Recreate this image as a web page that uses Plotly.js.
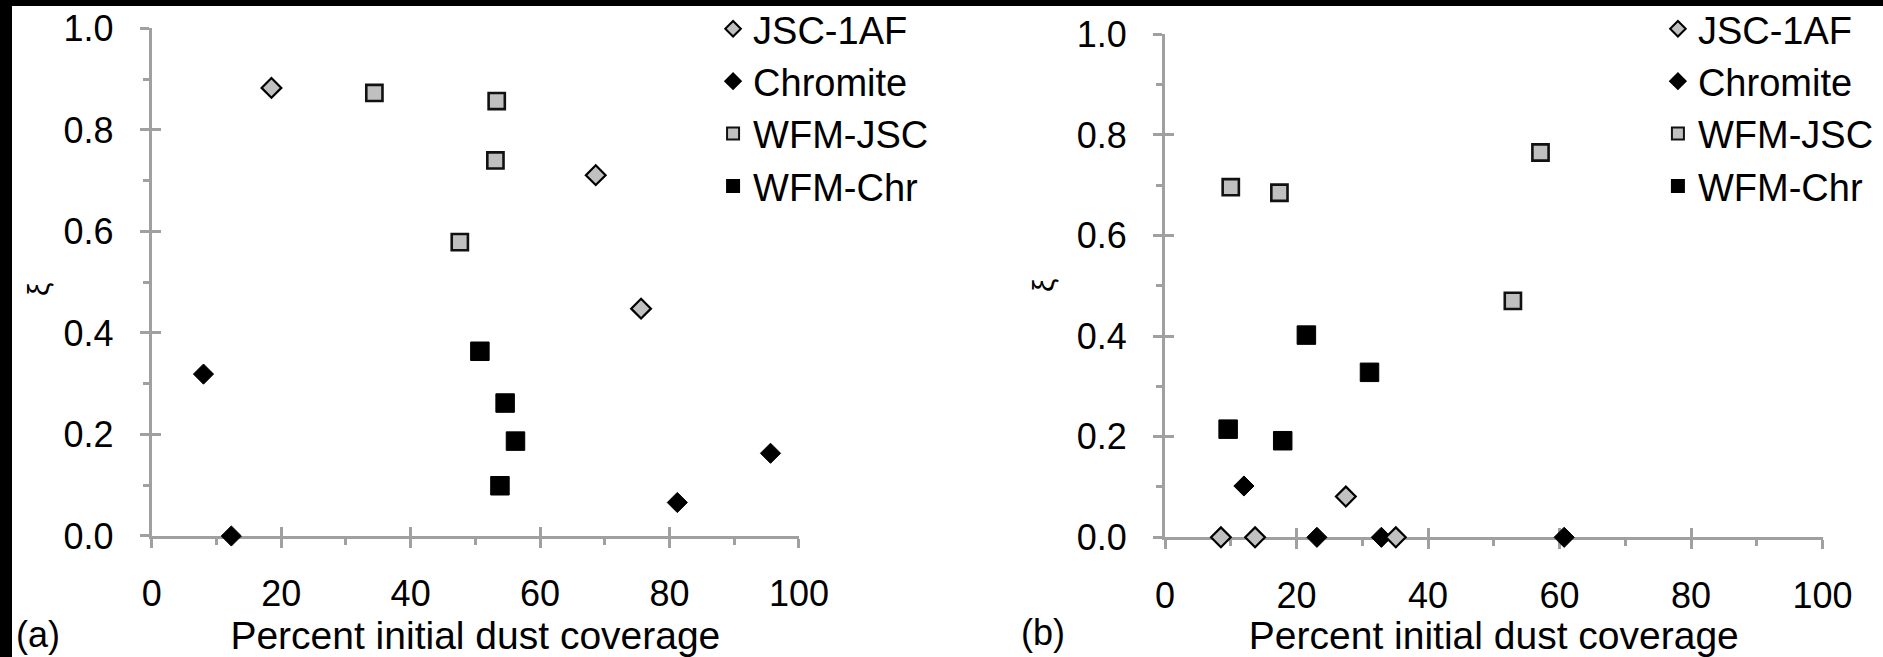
<!DOCTYPE html>
<html><head><meta charset="utf-8">
<script src="https://cdn.plot.ly/plotly-3.0.1.min.js"></script>
<style>
html,body{margin:0;padding:0;background:#000;overflow:hidden;}
#wrap{position:absolute;left:0;top:0;width:1883px;height:657px;background:#000;}
#chart{position:absolute;left:12px;top:6px;width:1871px;height:651px;background:#fff;}
</style></head><body><div id="wrap"><div id="chart"></div></div>
<script>
// ---- data ----
const seriesNames = ["JSC-1AF", "Chromite", "WFM-JSC", "WFM-Chr"];
const xTickVals = [0, 20, 40, 60, 80, 100];
const yTickVals = [0, 0.2, 0.4, 0.6, 0.8, 1.0];
const xTitle = "Percent initial dust coverage";
const yTitle = "ξ";
const panelLabels = ["(a)", "(b)"];

// panel (a)
const aJscX = [18.5, 68.6, 75.6];
const aJscY = [0.883, 0.711, 0.448];
const aChrX = [8.0, 12.3, 81.2, 95.6];
const aChrY = [0.319, 0.0, 0.066, 0.163];
const aWfmJscX = [34.4, 53.3, 53.1, 47.6];
const aWfmJscY = [0.873, 0.857, 0.740, 0.579];
const aWfmChrX = [50.7, 54.6, 56.2, 53.8];
const aWfmChrY = [0.364, 0.262, 0.187, 0.099];

// panel (b)
const bJscX = [8.5, 13.7, 27.5, 35.1];
const bJscY = [0.0, 0.0, 0.081, 0.0];
const bChrX = [12.0, 23.1, 32.9, 60.7];
const bChrY = [0.102, 0.0, 0.0, 0.0];
const bWfmJscX = [10.0, 17.4, 52.9, 57.1];
const bWfmJscY = [0.696, 0.685, 0.470, 0.765];
const bWfmChrX = [9.6, 17.9, 21.5, 31.1];
const bWfmChrY = [0.215, 0.192, 0.402, 0.328];

// ---- styles ----
const FONT = "Liberation Sans, Arial, sans-serif";
const AXIS = "#a0a0a0";
const markerStyles = [
  {symbol: "diamond", size: 15.2, color: "#c0c0c0", line: {color: "#000", width: 2.2}},
  {symbol: "diamond", size: 15.5, color: "#000", line: {color: "#000", width: 1}},
  {symbol: "square", size: 16.2, color: "#c0c0c0", line: {color: "#111", width: 2.6}},
  {symbol: "square", size: 18.5, color: "#000", line: {color: "#000", width: 1}}
];

function mk(i, x, y, xa, ya, leg) {
  return {type: "scatter", mode: "markers", name: seriesNames[i], x: x, y: y,
    xaxis: xa, yaxis: ya, legend: leg, legendrank: i + 1, marker: markerStyles[i],
    cliponaxis: false, hoverinfo: "x+y+name"};
}

const data = [
  mk(1, aChrX, aChrY, "x", "y", "legend"),
  mk(0, aJscX, aJscY, "x", "y", "legend"),
  mk(2, aWfmJscX, aWfmJscY, "x", "y", "legend"),
  mk(3, aWfmChrX, aWfmChrY, "x", "y", "legend"),
  mk(1, bChrX, bChrY, "x2", "y2", "legend2"),
  mk(0, bJscX, bJscY, "x2", "y2", "legend2"),
  mk(2, bWfmJscX, bWfmJscY, "x2", "y2", "legend2"),
  mk(3, bWfmChrX, bWfmChrY, "x2", "y2", "legend2"),
  // empty traces that carry the inward half of the crossing ticks
  {type: "scatter", mode: "markers", x: [], y: [], xaxis: "x3", yaxis: "y3", showlegend: false, hoverinfo: "skip"},
  {type: "scatter", mode: "markers", x: [], y: [], xaxis: "x4", yaxis: "y4", showlegend: false, hoverinfo: "skip"}
];

function xAxis(domain, anchor) {
  return {domain: domain, anchor: anchor, range: [0, 100], tickmode: "array", tickvals: xTickVals,
    ticks: "outside", ticklen: 9, tickwidth: 2.5, tickcolor: AXIS,
    showline: true, linecolor: AXIS, linewidth: 3, showgrid: false, zeroline: false,
    layer: "below traces", ticklabelstandoff: 15,
    minor: {tickvals: [10, 30, 50, 70, 90], ticks: "outside", ticklen: 6, tickwidth: 2.5, tickcolor: AXIS},
    tickfont: {family: FONT, size: 36, color: "#000"},
    title: {text: xTitle, font: {family: FONT, size: 39, color: "#000"}, standoff: 22},
    fixedrange: true};
}
function yAxis(domain, anchor) {
  return {domain: domain, anchor: anchor, range: [0, 1], tickmode: "array", tickvals: yTickVals,
    tickformat: ".1f", ticks: "outside", ticklen: 9, tickwidth: 2.5, tickcolor: AXIS,
    showline: true, linecolor: AXIS, linewidth: 3, showgrid: false, zeroline: false,
    layer: "below traces", ticklabelstandoff: 19,
    minor: {tickvals: [0.1, 0.3, 0.5, 0.7, 0.9], ticks: "outside", ticklen: 6, tickwidth: 2.5, tickcolor: AXIS},
    tickfont: {family: FONT, size: 36, color: "#000"},
    fixedrange: true};
}
function xInner(over, anchor) {
  return {overlaying: over, anchor: anchor, range: [0, 100], tickmode: "array", tickvals: xTickVals,
    ticks: "inside", ticklen: 9, tickwidth: 2.5, tickcolor: AXIS, showticklabels: false,
    showline: false, showgrid: false, zeroline: false, layer: "below traces", fixedrange: true};
}
function yInner(over, anchor) {
  return {overlaying: over, anchor: anchor, range: [0, 1], tickmode: "array", tickvals: yTickVals,
    ticks: "inside", ticklen: 9, tickwidth: 2.5, tickcolor: AXIS, showticklabels: false,
    showline: false, showgrid: false, zeroline: false, layer: "below traces", fixedrange: true};
}

const legendBase = {yanchor: "middle", y: 0.844, xanchor: "left", bgcolor: "rgba(0,0,0,0)",
  font: {family: FONT, size: 38, color: "#000"}, itemsizing: "constant", borderwidth: 0,
  traceorder: "normal"};

function ann(x, y, text, size, angle) {
  return {xref: "paper", yref: "paper", x: x, y: y, xanchor: "center", yanchor: "middle",
    text: text, textangle: angle, showarrow: false, font: {family: FONT, size: size, color: "#000"}};
}

const layout = {
  width: 1871, height: 651,
  margin: {l: 0, r: 0, t: 0, b: 0, autoexpand: false},
  paper_bgcolor: "#fff", plot_bgcolor: "#fff",
  font: {family: FONT, color: "#000"},
  xaxis: xAxis([0.07467, 0.42063], "y"),
  yaxis: yAxis([0.18587, 0.96544], "x"),
  xaxis2: xAxis([0.61625, 0.96772], "y2"),
  yaxis2: yAxis([0.18387, 0.95653], "x2"),
  xaxis3: xInner("x", "y3"),
  yaxis3: yInner("y", "x3"),
  xaxis4: xInner("x2", "y4"),
  yaxis4: yInner("y2", "x4"),
  legend: Object.assign({}, legendBase, {x: 0.3747}),
  legend2: Object.assign({}, legendBase, {x: 0.8797}),
  annotations: [
    ann(0.01443, 0.5653, yTitle, 30, -90),
    ann(0.5510, 0.5714, yTitle, 30, -90),
    ann(0.01416, 0.0338, panelLabels[0], 36, 0),
    ann(0.5510, 0.0369, panelLabels[1], 36, 0)
  ],
  showlegend: true
};

Plotly.newPlot("chart", data, layout, {displayModeBar: false, responsive: false});
</script></body></html>
